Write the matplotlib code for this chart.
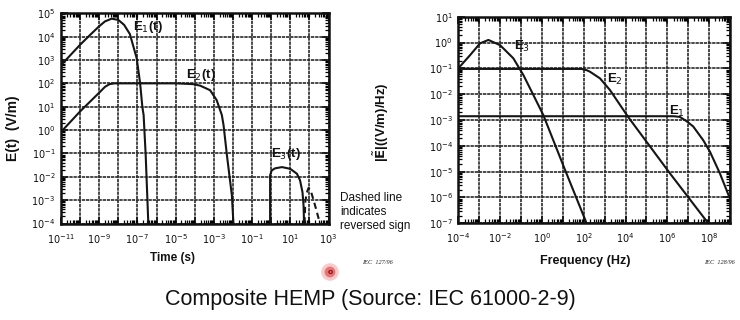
import numpy as np
import matplotlib
matplotlib.use("Agg")
import matplotlib.pyplot as plt
from matplotlib.ticker import LogLocator, NullFormatter

plt.rcParams['font.family'] = ['Liberation Sans', 'DejaVu Sans']
plt.rcParams['mathtext.fontset'] = 'dejavusans'

# ---------------- data: time domain (s, V/m) ----------------
e1_t = [1e-11, 1e-10, 3.2e-10, 1e-9, 2e-9, 4.5e-9, 1e-8, 2e-8, 4e-8, 9.1e-8,
        1.38e-7, 1.8e-7, 2.1e-7, 2.7e-7, 3.7e-7]
e1_v = [600, 4.5e3, 1.15e4, 2.8e4, 4.5e4, 5.9e4, 5.2e4, 3.2e4, 1.3e4, 1.2e3,
        100, 10, 4.4, 0.083, 1e-4]

e2_t = [1e-11, 1e-10, 1e-9, 2e-9, 3.5e-9, 6.3e-9, 1e-5, 8e-5, 1.9e-4, 6.3e-4,
        1.4e-3, 2.6e-3, 3.2e-3, 4.8e-3, 8.7e-3, 1.05e-2]
e2_v = [0.83, 6.3, 40, 71, 93, 100, 100, 93, 80, 51,
        19, 4.4, 1.6, 0.083, 1.6e-3, 1e-4]

e3_t = [0.87, 0.87, 1.05, 1.58, 3.6, 9.8, 22, 32, 43, 49, 52]
e3_v = [1e-4, 0.0115, 0.0186, 0.023, 0.026, 0.022, 0.0135, 0.0071, 0.0022, 5.9e-4, 1e-4]

e3r_t = [55, 60, 71, 89, 112, 158, 224, 316, 355]
e3r_v = [1e-4, 7.9e-4, 2e-3, 3.3e-3, 2.8e-3, 1.1e-3, 4e-4, 1.4e-4, 1e-4]

# ---------------- data: frequency domain (Hz, (V/m)/Hz) ----------------
s1_f = [1e-4, 2e6, 4e6, 8.5e6, 1.74e7, 5.2e7, 1.1e8, 3.3e8, 1e9]
s1_v = [1.4e-3, 1.4e-3, 1.32e-3, 8.9e-4, 5.6e-4, 1.66e-4, 5.9e-5, 8.5e-6, 8.9e-7]

s2_f = [1e-4, 80, 138, 200, 600, 1.8e3, 1.35e4, 1.35e6, 9.1e7]
s2_v = [0.095, 0.095, 0.085, 0.074, 0.041, 0.0145, 1.3e-3, 8.5e-6, 1e-7]

s3_f = [1e-4, 3.6e-4, 1.1e-3, 2.75e-3, 1e-2, 4.3e-2, 0.13, 0.39, 1.17, 12.9, 138]
s3_v = [0.1, 0.32, 0.93, 1.26, 0.79, 0.245, 0.055, 9.3e-3, 1.55e-3, 1.15e-5, 1e-7]

t_exp = list(range(-11, 4))
t_lab_exp = [-11, -9, -7, -5, -3, -1, 1, 3]
ey_exp = list(range(-4, 6))
f_exp = list(range(-4, 10))
f_lab_exp = [-4, -2, 0, 2, 4, 6, 8]
fy_exp = list(range(-7, 2))

fig = plt.figure(figsize=(7.4, 3.2), dpi=100)
fig.patch.set_facecolor('white')

W, H = 740.0, 320.0
def axrect(x0, y0, x1, y1):
    return [x0 / W, 1 - y1 / H, (x1 - x0) / W, (y1 - y0) / H]

ax1 = fig.add_axes(axrect(61, 13.3, 328.6, 223.5))
ax2 = fig.add_axes(axrect(458.3, 16.7, 730, 223.3))

def style(ax, xexp, xlab, yexp):
    ax.set_xscale('log')
    ax.set_yscale('log')
    ax.set_xlim(10.0 ** xexp[0], 10.0 ** xexp[-1])
    ax.set_ylim(10.0 ** yexp[0], 10.0 ** yexp[-1])
    ax.set_xticks([10.0 ** e for e in xexp])
    ax.set_xticklabels([(r'$10^{%d}$' % e) if e in xlab else '' for e in xexp])
    ax.set_yticks([10.0 ** e for e in yexp])
    ax.set_yticklabels([r'$10^{%d}$' % e for e in yexp])
    ax.xaxis.set_minor_locator(LogLocator(base=10, subs=np.arange(2, 10), numticks=100))
    ax.yaxis.set_minor_locator(LogLocator(base=10, subs=np.arange(2, 10), numticks=100))
    ax.xaxis.set_minor_formatter(NullFormatter())
    ax.yaxis.set_minor_formatter(NullFormatter())
    ax.tick_params(which='major', direction='in', length=5, width=1.2,
                   top=True, right=True, labelsize=7, colors='#111')
    ax.tick_params(axis='x', which='major', pad=6)
    ax.tick_params(axis='y', which='major', pad=4)
    ax.tick_params(which='minor', direction='in', length=3, width=0.9,
                   top=True, right=True)
    ax.grid(True, which='major', color='#2a2a2a', linewidth=1.2,
            linestyle=(0, (2, 0.5)))
    for sp in ax.spines.values():
        sp.set_linewidth(1.8)
        sp.set_color('#111')
    ax.set_axisbelow(True)

style(ax1, t_exp, t_lab_exp, ey_exp)
style(ax2, f_exp, f_lab_exp, fy_exp)

lc = '#151515'
ax1.plot(e1_t, e1_v, color=lc, lw=1.5)
ax1.plot(e2_t, e2_v, color=lc, lw=1.5)
ax1.plot(e3_t, e3_v, color=lc, lw=1.5)
ax1.plot(e3r_t, e3r_v, color=lc, lw=1.5, linestyle=(0, (3, 2)))

ax2.plot(s1_f, s1_v, color=lc, lw=1.5)
ax2.plot(s2_f, s2_v, color=lc, lw=1.5)
ax2.plot(s3_f, s3_v, color=lc, lw=1.5)

def ftext(x, y, s, **kw):
    fig.text(x / W, 1 - y / H, s, **kw)

bold = dict(fontweight='bold', color='#111')
# curve labels
ftext(133, 27, r'E$_1$(t)', fontsize=9.5, va='center', ha='left', **bold)
ftext(186, 75, r'E$_2$(t)', fontsize=9.5, va='center', ha='left', **bold)
ftext(271, 154, r'E$_3$(t)', fontsize=9.5, va='center', ha='left', **bold)
ftext(514, 46, r'E$_3$', fontsize=9.5, va='center', ha='left', **bold)
ftext(607, 79, r'E$_2$', fontsize=9.5, va='center', ha='left', **bold)
ftext(669, 111, r'E$_1$', fontsize=9.5, va='center', ha='left', **bold)

# axis labels
ftext(13, 128, 'E(t)  (V/m)', fontsize=10, rotation=90, va='center', ha='center', **bold)
ftext(172, 258, 'Time (s)', fontsize=8.5, va='center', ha='center', **bold)
ftext(381, 122, r'|$\tilde{\mathbf{E}}$|((V/m)/Hz)', fontsize=9.5, rotation=90,
      va='center', ha='center', **bold)
ftext(585, 261, 'Frequency (Hz)', fontsize=9, va='center', ha='center', **bold)

# notes
ftext(340, 212, 'Dashed line\nindicates\nreversed sign', fontsize=8.5,
      va='center', ha='left', linespacing=1.25, color='#111')
ftext(362, 263, 'IEC  127/96', fontsize=4.5, style='italic', va='center',
      ha='left', family='Liberation Serif', color='#222')
ftext(704, 263, 'IEC  128/96', fontsize=4.5, style='italic', va='center',
      ha='left', family='Liberation Serif', color='#222')

# caption
ftext(370, 300, 'Composite HEMP (Source: IEC 61000-2-9)', fontsize=15.5,
      va='center', ha='center', color='#111')

# cursor highlight
ax_ov = fig.add_axes([0, 0, 1, 1], facecolor='none')
ax_ov.set_xlim(0, W)
ax_ov.set_ylim(H, 0)
ax_ov.axis('off')
ax_ov.scatter([330], [272], s=160, color='#f4a0a0', alpha=0.55, edgecolors='none')
ax_ov.scatter([330], [272], s=60, color='#e05050', alpha=0.7, edgecolors='none')
ax_ov.text(330, 273, 'o', fontsize=6, color='#7a0000', ha='center', va='center',
           fontweight='bold')

fig.savefig('out.png', dpi=100, facecolor='white')
